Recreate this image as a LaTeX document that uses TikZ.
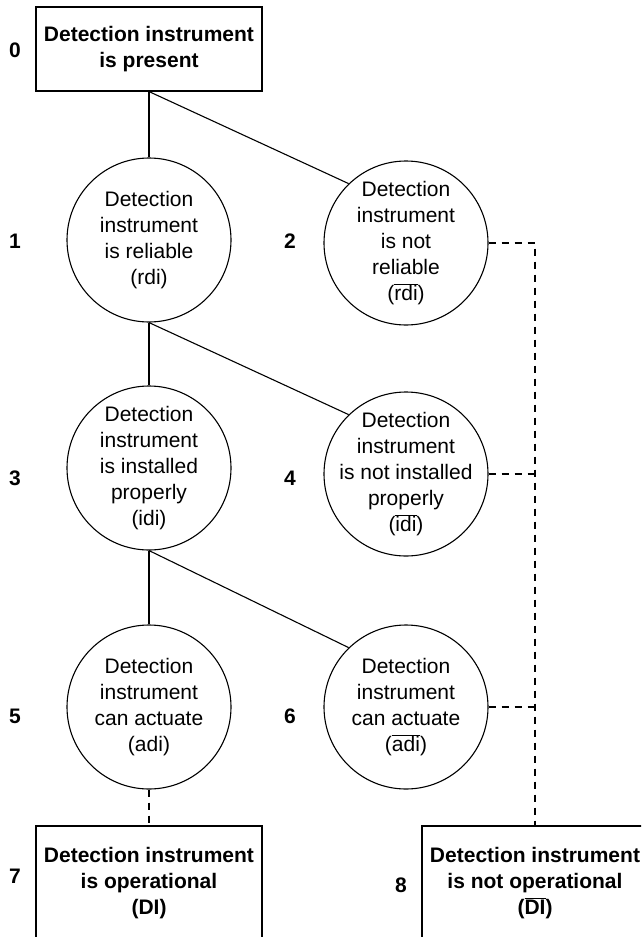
\documentclass[tikz,border=0pt]{standalone}
\usepackage{fontspec}
\setmainfont{Liberation Sans}
\newcommand{\negbar}[1]{$\overline{\mbox{#1}}$}
\begin{document}
\begin{tikzpicture}[x=1pt,y=-1pt,
  txt/.style={font={\fontsize{21}{26}\selectfont}, align=center},
  statebox/.style={txt, font={\fontsize{21}{26}\selectfont\bfseries}, draw, line width=1.1pt,
    minimum width=226pt, inner sep=0pt},
  state/.style={draw, circle, line width=1.1pt, minimum size=164pt, inner sep=0pt,
    label={[txt, inner sep=0pt]center:#1}},
  num/.style={font={\fontsize{21}{26}\selectfont\bfseries}},
  link/.style={line width=1.1pt},
  nolink/.style={line width=1.1pt, dash pattern=on 7pt off 6pt}]
  \clip (0,0) rectangle (641,937);
  \fill[white] (0,0) rectangle (641,937);

  % states
  \node[statebox, minimum height=84pt] (b0) at (149,49) {Detection instrument\\is present};
  \node[state={Detection\\instrument\\is reliable\\(rdi)}] (c1) at (149,240) {};
  \node[state={Detection\\instrument\\is not\\reliable\\(\negbar{rdi})}] (c2) at (406,243) {};
  \node[state={Detection\\instrument\\is installed\\properly\\(idi)}] (c3) at (149,468) {};
  \node[state={Detection\\instrument\\is not installed\\properly\\(\negbar{idi})}] (c4) at (406,474) {};
  \node[state={Detection\\instrument\\can actuate\\(adi)}] (c5) at (149,707) {};
  \node[state={Detection\\instrument\\can actuate\\(\negbar{adi})}] (c6) at (406,707) {};
  \node[statebox, minimum height=114pt] (b7) at (149,883) {Detection instrument\\is operational\\(DI)};
  \node[statebox, minimum height=114pt] (b8) at (535,883) {Detection instrument\\is not operational\\(\negbar{DI})};

  % step numbers
  \node[num] (n0) at (15,50) {0};
  \node[num] (n1) at (15,241) {1};
  \node[num] (n2) at (290,241) {2};
  \node[num] (n3) at (15,478) {3};
  \node[num] (n4) at (290,478) {4};
  \node[num] (n5) at (15,716) {5};
  \node[num] (n6) at (290,716) {6};
  \node[num] (n7) at (15,876) {7};
  \node[num] (n8) at (401,885) {8};

  % branches
  \draw[link] (b0.south) -- (c1.north);
  \draw[link] (b0.south) -- (c2.134);
  \draw[link] (c1.south) -- (c3.north);
  \draw[link] (c1.south) -- (c4.134);
  \draw[link] (c3.south) -- (c5.north);
  \draw[link] (c3.south) -- (c6.134);

  % outcomes
  \draw[nolink] (c5.south) -- (b7.north);
  \draw[nolink] (c2.east) -| (b8.north);
  \draw[nolink] (c4.east) -- (c4.east -| b8.north);
  \draw[nolink] (c6.east) -- (c6.east -| b8.north);
\end{tikzpicture}
\end{document}
